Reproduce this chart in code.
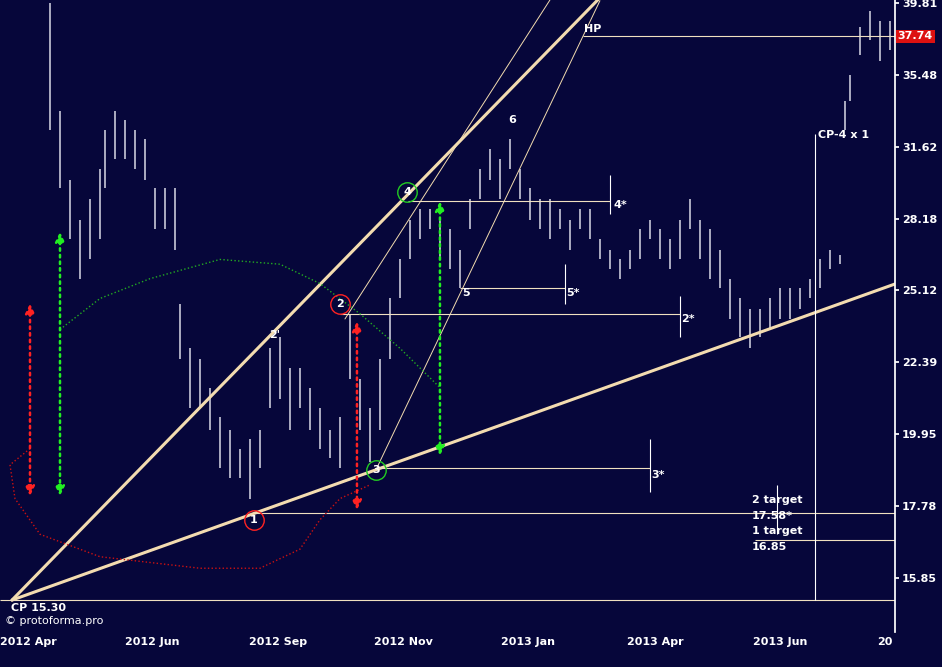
import numpy as np, pandas as pd, seaborn as sns, matplotlib
matplotlib.use("Agg")
import matplotlib.pyplot as plt

sns.set_theme(style="dark")
plt.rcParams['font.family'] = ['DejaVu Sans']
BG = '#06063a'

bar_idx = [10,12,14,16,18,20,21,23,25,27,29,31,33,35,36,38,40,42,44,46,48,50,52,54,56,58,60,62,64,66,68,70,72,74,76,78,80,82,84,86,88,90,92,94,96,98,100,102,104,106,108,110,112,114,116,118,120,122,124,126,128,130,132,134,136,138,140,142,144,146,148,150,152,154,156,158,160,162,164,166,168,169,170,172,174,176,178]
bar_hi = [39.8,33.5,30.0,28.1,29.1,30.5,32.5,33.5,33.0,32.5,32.0,29.6,29.6,29.6,24.6,22.9,22.5,21.5,20.5,20.1,19.5,19.8,20.1,22.9,23.3,22.2,22.2,21.5,20.8,20.1,20.5,24.2,21.8,20.8,22.5,24.8,26.4,28.1,28.6,28.6,28.1,27.7,26.8,29.1,30.5,31.5,31.0,32.0,30.5,29.6,29.1,29.1,28.6,28.1,28.6,28.6,27.3,26.8,26.4,26.8,27.7,28.1,27.7,27.3,28.1,29.1,28.1,27.7,26.8,25.6,24.8,24.4,24.4,24.8,25.2,25.2,25.2,25.6,26.4,26.8,26.6,34.0,35.5,38.3,39.3,38.7,38.7]
bar_lo = [32.5,29.6,27.3,25.6,26.4,27.3,29.6,31.0,31.0,30.5,30.0,27.7,27.7,26.8,22.5,20.8,20.8,20.1,18.9,18.6,18.6,18.0,18.9,20.8,21.1,20.1,20.8,20.1,19.5,19.2,18.9,21.8,20.1,19.1,20.1,22.5,24.8,26.4,27.3,27.7,26.4,26.0,25.2,27.7,29.1,30.0,29.1,30.5,29.1,28.1,27.7,27.3,27.7,26.8,27.7,27.3,26.4,26.0,25.6,26.0,26.4,27.3,26.4,26.0,26.4,27.7,26.4,25.6,25.2,24.0,23.3,22.9,23.3,23.6,24.0,24.0,24.4,24.8,25.2,26.0,26.2,32.5,34.0,36.6,37.5,36.3,36.9]

yticks = [15.85,17.78,19.95,22.39,25.12,28.18,31.62,35.48,39.81]
xtick_pos = [5.6,30.4,55.6,80.6,105.6,131,156,177]
xtick_lab = ['2012 Apr','2012 Jun','2012 Sep','2012 Nov','2013 Jan','2013 Apr','2013 Jun','20']

green_x = [12,20,30,44,56,64,72,80,88]
green_y = [23.6,24.8,25.6,26.4,26.2,25.4,24.2,22.9,21.5]
red_x = [6,2,3,8,20,40,52,60,64,68,74]
red_y = [19.5,19.0,18.0,17.0,16.4,16.1,16.1,16.6,17.4,18.0,18.4]

fig = plt.figure(figsize=(9.42,6.67), dpi=100, facecolor=BG)
ax = fig.add_axes([0,0.052,0.95,0.948], facecolor=BG)
ax.set_yscale('log')
ax.set_xlim(0,179); ax.set_ylim(14.53,40.0)

df = pd.DataFrame({'i':bar_idx,'hi':bar_hi,'lo':bar_lo})
ax.vlines(df.i, df.lo, df.hi, color='#c8c8d8', lw=1.2)

def logline(p1,p2,x_end):
    (x1,y1),(x2,y2) = p1,p2
    s = (np.log(y2)-np.log(y1))/(x2-x1)
    return [x1,x_end],[y1,np.exp(np.log(y1)+s*(x_end-x1))]
tan='#f3dcb0'
CP=(2.4,15.30)
xs,ys = logline(CP,(81.6,29.3),123); ax.plot(xs,ys,color=tan,lw=2.2)
xs,ys = logline(CP,(75.2,18.85),179); ax.plot(xs,ys,color=tan,lw=2.2)
xs,ys = logline((69,24.0),(110,40.0),110); ax.plot(xs,ys,color=tan,lw=0.7)
xs,ys = logline((75.2,18.85),(116.6,37.74),120); ax.plot(xs,ys,color=tan,lw=0.7)

for y,x0,x1 in [(37.74,116.6,179),(15.30,0,179),(17.58,50.8,179),(16.85,151,179),(18.9,75.2,130),(24.2,68,136),(29.0,81.6,122),(25.2,92,113)]:
    ax.hlines(y,x0,x1,color='#f0e0c0',lw=0.8)
ax.vlines(163,15.30,32.3,color='white',lw=0.8)
for x,a,b in [(122,28.4,30.2),(113,24.6,26.2),(136,23.3,24.9),(130,18.2,19.8),(155.5,17.0,18.4)]:
    ax.vlines(x,a,b,color='white',lw=0.8)

ax.plot(green_x,green_y,color='#22aa22',ls=':',lw=1)
ax.plot(red_x,red_y,color='#cc1111',ls=':',lw=1)

for x,y0,y1 in [(6,18.0,24.7),(71.4,17.6,24.0)]:
    ax.annotate('',xy=(x,y0),xytext=(x,y1),arrowprops=dict(arrowstyle='<|-|>',color='#ff2222',ls=':',lw=1.8,mutation_scale=14))
for x,y0,y1 in [(12,18.0,27.7),(88,19.2,29.1)]:
    ax.annotate('',xy=(x,y0),xytext=(x,y1),arrowprops=dict(arrowstyle='<|-|>',color='#22ee22',ls=':',lw=1.8,mutation_scale=14))

for (x,y,c,t) in [(50.8,17.39,'#ff2222','1'),(68,24.6,'#ff2222','2'),(75.2,18.85,'#22cc22','3'),(81.4,29.4,'#22cc22','4')]:
    ax.plot([x],[y],'o',ms=14,mfc='none',mec=c,mew=1)
    ax.text(x,y,t,color='white',fontsize=8,fontweight='bold',ha='center',va='center')

txt = [(101.6,33.0,'6'),(53.8,23.4,'2\''),(92.4,25.0,'5'),(113.2,25.0,'5*'),(136.2,24.0,'2*'),(122.8,28.8,'4*'),(130.2,18.7,'3*'),(116.8,38.2,'HP'),(163.6,32.2,'CP-4 x 1'),(150.4,17.95,'2 target'),(150.4,17.5,'17.58*'),(150.4,17.08,'1 target'),(150.4,16.65,'16.85'),(2.2,15.1,'CP 15.30')]
for x,y,t in txt:
    ax.text(x,y,t,color='white',fontsize=8,fontweight='bold',va='center')
ax.text(1,14.8,'© protoforma.pro',color='white',fontsize=8,va='center')

ax.yaxis.tick_right()
ax.set_yticks(yticks); ax.set_yticklabels([f'{v:.2f}' for v in yticks])
ax.yaxis.set_minor_locator(matplotlib.ticker.NullLocator())
ax.tick_params(axis='y',colors='white',labelsize=8,length=3,pad=2)
ax.text(1.003,37.74,'37.74',transform=ax.get_yaxis_transform(),color='white',fontsize=8,fontweight='bold',va='center',
        bbox=dict(boxstyle='square,pad=0.15',fc='#dd1111',ec='none'))
ax.set_xticks(xtick_pos); ax.set_xticklabels(xtick_lab)
ax.tick_params(axis='x',colors='white',labelsize=8,length=0)
for lab in ax.get_xticklabels()+ax.get_yticklabels(): lab.set_fontweight('bold')
for s in ax.spines.values(): s.set_visible(False)
ax.spines['right'].set_visible(True); ax.spines['right'].set_color('white')
ax.grid(False)
fig.savefig('out.png',dpi=100,facecolor=BG)
